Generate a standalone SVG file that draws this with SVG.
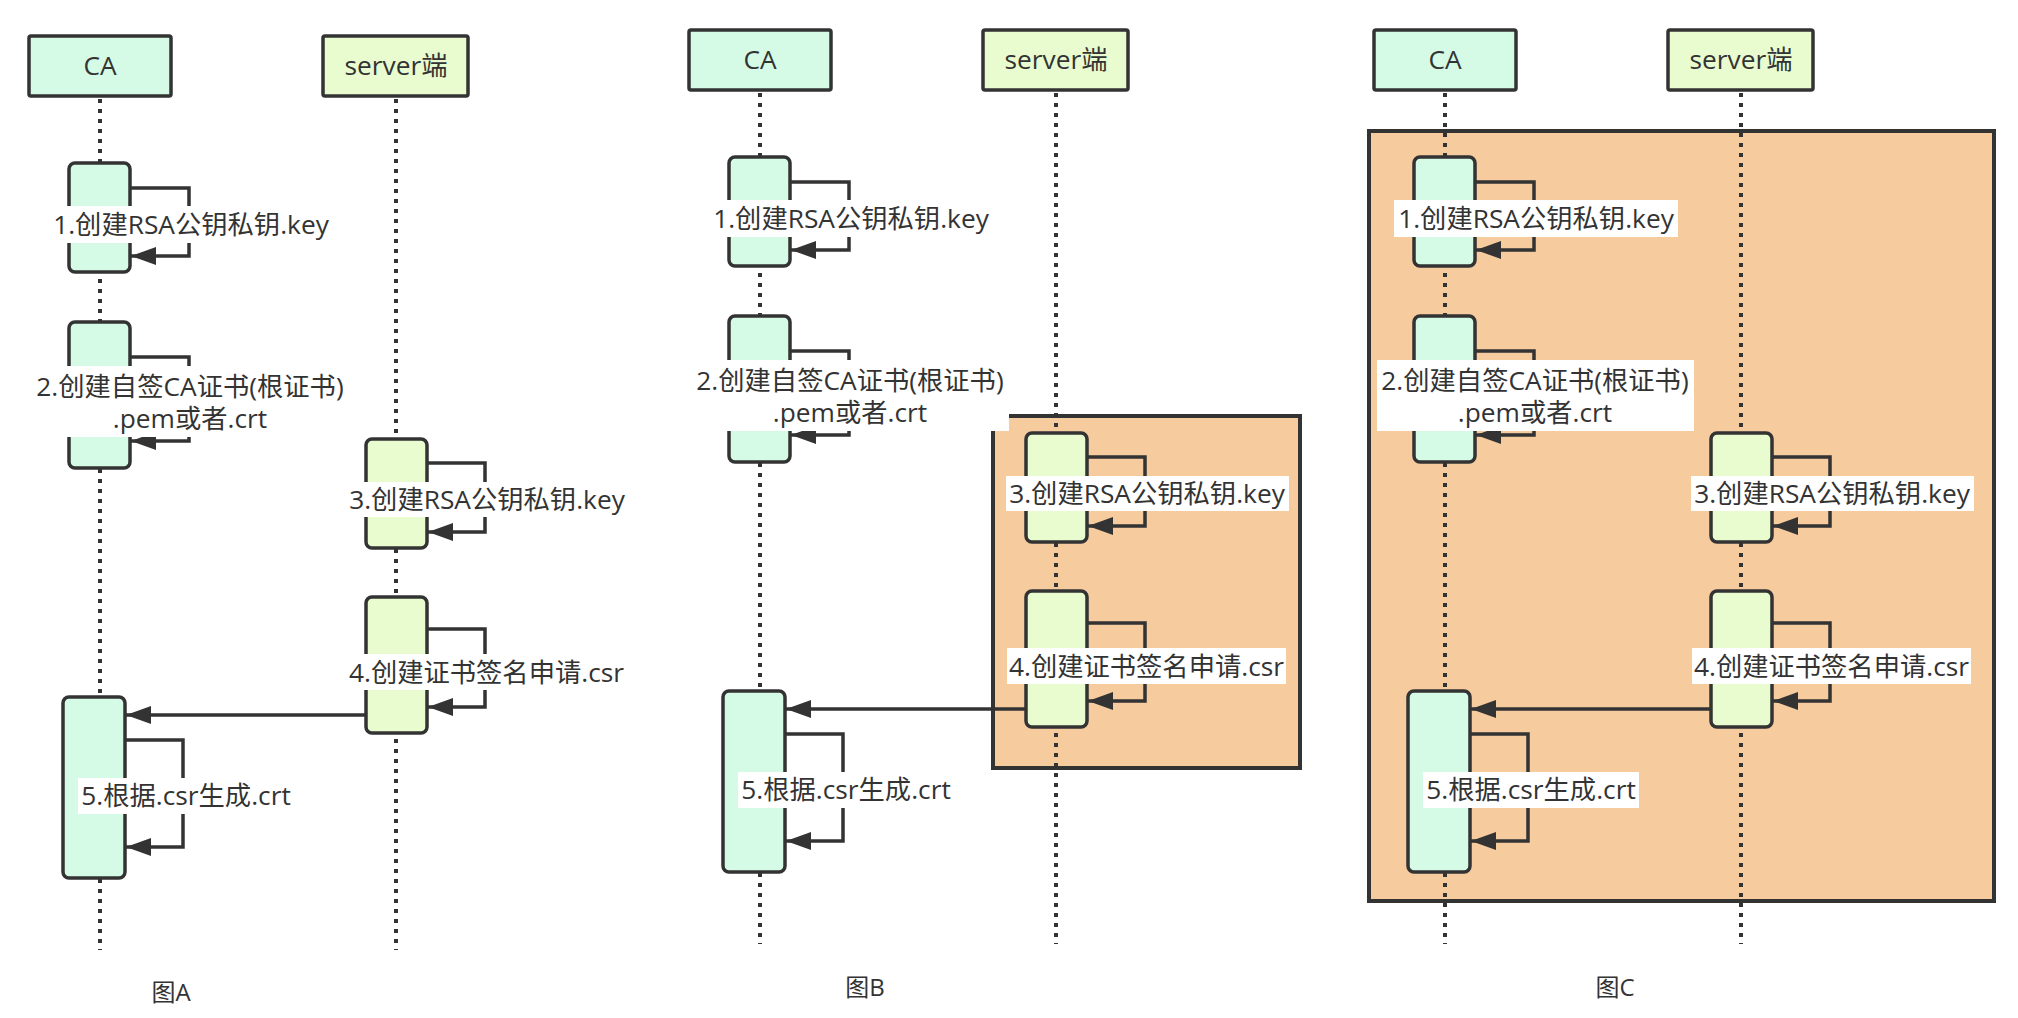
<svg xmlns="http://www.w3.org/2000/svg" width="2018" height="1018" viewBox="0 0 2018 1018">
<style>
.bg{fill:#ffffff}
.hca{fill:#d5fbe6;stroke:#333;stroke-width:3.5}
.hsv{fill:#e9fcd0;stroke:#333;stroke-width:3.5}
.life{stroke:#333;stroke-width:4;stroke-dasharray:4 6;fill:none}
.conn{stroke:#333;stroke-width:3.5;fill:none;marker-end:url(#ah)}
.lbg{fill:#ffffff}
.t{font-family:"Open Sans","Noto Sans CJK SC",sans-serif;font-size:26.3px;fill:#333;text-anchor:middle}
.cap{font-family:"Open Sans","Noto Sans CJK SC",sans-serif;font-size:24px;fill:#333;text-anchor:middle}
.grp{fill:#f6cb9e;stroke:#333;stroke-width:4}
</style>
<defs>
<marker id="ah" markerWidth="26" markerHeight="18" refX="25" refY="9" orient="auto" markerUnits="userSpaceOnUse"><path d="M0,0 L25,9 L0,18 z" fill="#333"/></marker>
</defs>
<rect class="bg" x="0" y="0" width="2018" height="1018"/>

<!-- Figure A -->
<g id="figA">
  <g id="a-lifelines">
    <line class="life" x1="100" y1="99" x2="100" y2="950"/>
    <line class="life" x1="396" y1="99" x2="396" y2="950"/>
  </g>
  <g id="a-ca"><rect class="hca" x="29" y="36" width="142" height="60" rx="2"/><text class="t" x="100" y="75">CA</text></g>
  <g id="a-server"><rect class="hsv" x="323" y="36" width="145" height="60" rx="2"/><text class="t" x="396" y="75">server端</text></g>
  <g id="a-act1"><rect class="hca" x="69" y="163" width="61" height="109" rx="6"/></g>
  <g id="a-act2"><rect class="hca" x="69" y="322" width="61" height="146" rx="6"/></g>
  <g id="a-act3"><rect class="hsv" x="366" y="439" width="61" height="109" rx="6"/></g>
  <g id="a-act4"><rect class="hsv" x="366" y="597" width="61" height="136" rx="6"/></g>
  <g id="a-act5"><rect class="hca" x="63" y="697" width="62" height="181" rx="6"/></g>
  <g id="a-connectors">
    <path class="conn" d="M130,188 H189 V256 H131"/>
    <path class="conn" d="M130,357 H189 V441 H131"/>
    <path class="conn" d="M427,463 H485 V532 H428"/>
    <path class="conn" d="M427,629 H485 V707 H428"/>
    <path class="conn" d="M366,715 H126"/>
    <path class="conn" d="M125,740 H183 V847 H126"/>
  </g>
  <g id="a-labels">
    <rect class="lbg" x="49" y="206" width="284" height="37"/><text class="t" x="191" y="234">1.创建RSA公钥私钥.key</text>
    <rect class="lbg" x="32" y="366" width="317" height="71"/><text class="t" x="190" y="396">2.创建自签CA证书(根证书)</text><text class="t" x="190" y="428">.pem或者.crt</text>
    <rect class="lbg" x="346" y="482" width="283" height="35"/><text class="t" x="487" y="509">3.创建RSA公钥私钥.key</text>
    <rect class="lbg" x="347" y="654" width="279" height="36"/><text class="t" x="486.5" y="682">4.创建证书签名申请.csr</text>
    <rect class="lbg" x="78" y="778" width="216" height="36"/><text class="t" x="186" y="805">5.根据.csr生成.crt</text>
  </g>
  <text class="cap" x="171" y="1001">图A</text>
</g>

<!-- Figure B -->
<g id="figB">
  <rect id="b-group" class="grp" x="993" y="416" width="307" height="352"/>
  <g transform="translate(660,-6)">
    <g id="b-lifelines">
      <line class="life" x1="100" y1="99" x2="100" y2="950"/>
      <line class="life" x1="396" y1="99" x2="396" y2="950"/>
    </g>
    <g id="b-ca"><rect class="hca" x="29" y="36" width="142" height="60" rx="2"/><text class="t" x="100" y="75">CA</text></g>
    <g id="b-server"><rect class="hsv" x="323" y="36" width="145" height="60" rx="2"/><text class="t" x="396" y="75">server端</text></g>
    <g id="b-act1"><rect class="hca" x="69" y="163" width="61" height="109" rx="6"/></g>
    <g id="b-act2"><rect class="hca" x="69" y="322" width="61" height="146" rx="6"/></g>
    <g id="b-act3"><rect class="hsv" x="366" y="439" width="61" height="109" rx="6"/></g>
    <g id="b-act4"><rect class="hsv" x="366" y="597" width="61" height="136" rx="6"/></g>
    <g id="b-act5"><rect class="hca" x="63" y="697" width="62" height="181" rx="6"/></g>
    <g id="b-connectors">
      <path class="conn" d="M130,188 H189 V256 H131"/>
      <path class="conn" d="M130,357 H189 V441 H131"/>
      <path class="conn" d="M427,463 H485 V532 H428"/>
      <path class="conn" d="M427,629 H485 V707 H428"/>
      <path class="conn" d="M366,715 H126"/>
      <path class="conn" d="M125,740 H183 V847 H126"/>
    </g>
    <g id="b-labels">
      <rect class="lbg" x="49" y="206" width="284" height="37"/><text class="t" x="191" y="234">1.创建RSA公钥私钥.key</text>
      <rect class="lbg" x="32" y="366" width="317" height="71"/><text class="t" x="190" y="396">2.创建自签CA证书(根证书)</text><text class="t" x="190" y="428">.pem或者.crt</text>
      <rect class="lbg" x="346" y="482" width="283" height="35"/><text class="t" x="487" y="509">3.创建RSA公钥私钥.key</text>
      <rect class="lbg" x="347" y="654" width="279" height="36"/><text class="t" x="486.5" y="682">4.创建证书签名申请.csr</text>
      <rect class="lbg" x="78" y="778" width="216" height="36"/><text class="t" x="186" y="805">5.根据.csr生成.crt</text>
    </g>
  </g>
  <text class="cap" x="865" y="996">图B</text>
</g>

<!-- Figure C -->
<g id="figC">
  <rect id="c-group" class="grp" x="1369" y="131" width="625" height="770"/>
  <g transform="translate(1345,-6)">
    <g id="c-lifelines">
      <line class="life" x1="100" y1="99" x2="100" y2="950"/>
      <line class="life" x1="396" y1="99" x2="396" y2="950"/>
    </g>
    <g id="c-ca"><rect class="hca" x="29" y="36" width="142" height="60" rx="2"/><text class="t" x="100" y="75">CA</text></g>
    <g id="c-server"><rect class="hsv" x="323" y="36" width="145" height="60" rx="2"/><text class="t" x="396" y="75">server端</text></g>
    <g id="c-act1"><rect class="hca" x="69" y="163" width="61" height="109" rx="6"/></g>
    <g id="c-act2"><rect class="hca" x="69" y="322" width="61" height="146" rx="6"/></g>
    <g id="c-act3"><rect class="hsv" x="366" y="439" width="61" height="109" rx="6"/></g>
    <g id="c-act4"><rect class="hsv" x="366" y="597" width="61" height="136" rx="6"/></g>
    <g id="c-act5"><rect class="hca" x="63" y="697" width="62" height="181" rx="6"/></g>
    <g id="c-connectors">
      <path class="conn" d="M130,188 H189 V256 H131"/>
      <path class="conn" d="M130,357 H189 V441 H131"/>
      <path class="conn" d="M427,463 H485 V532 H428"/>
      <path class="conn" d="M427,629 H485 V707 H428"/>
      <path class="conn" d="M366,715 H126"/>
      <path class="conn" d="M125,740 H183 V847 H126"/>
    </g>
    <g id="c-labels">
      <rect class="lbg" x="49" y="206" width="284" height="37"/><text class="t" x="191" y="234">1.创建RSA公钥私钥.key</text>
      <rect class="lbg" x="32" y="366" width="317" height="71"/><text class="t" x="190" y="396">2.创建自签CA证书(根证书)</text><text class="t" x="190" y="428">.pem或者.crt</text>
      <rect class="lbg" x="346" y="482" width="283" height="35"/><text class="t" x="487" y="509">3.创建RSA公钥私钥.key</text>
      <rect class="lbg" x="347" y="654" width="279" height="36"/><text class="t" x="486.5" y="682">4.创建证书签名申请.csr</text>
      <rect class="lbg" x="78" y="778" width="216" height="36"/><text class="t" x="186" y="805">5.根据.csr生成.crt</text>
    </g>
  </g>
  <text class="cap" x="1615" y="996">图C</text>
</g>
</svg>
